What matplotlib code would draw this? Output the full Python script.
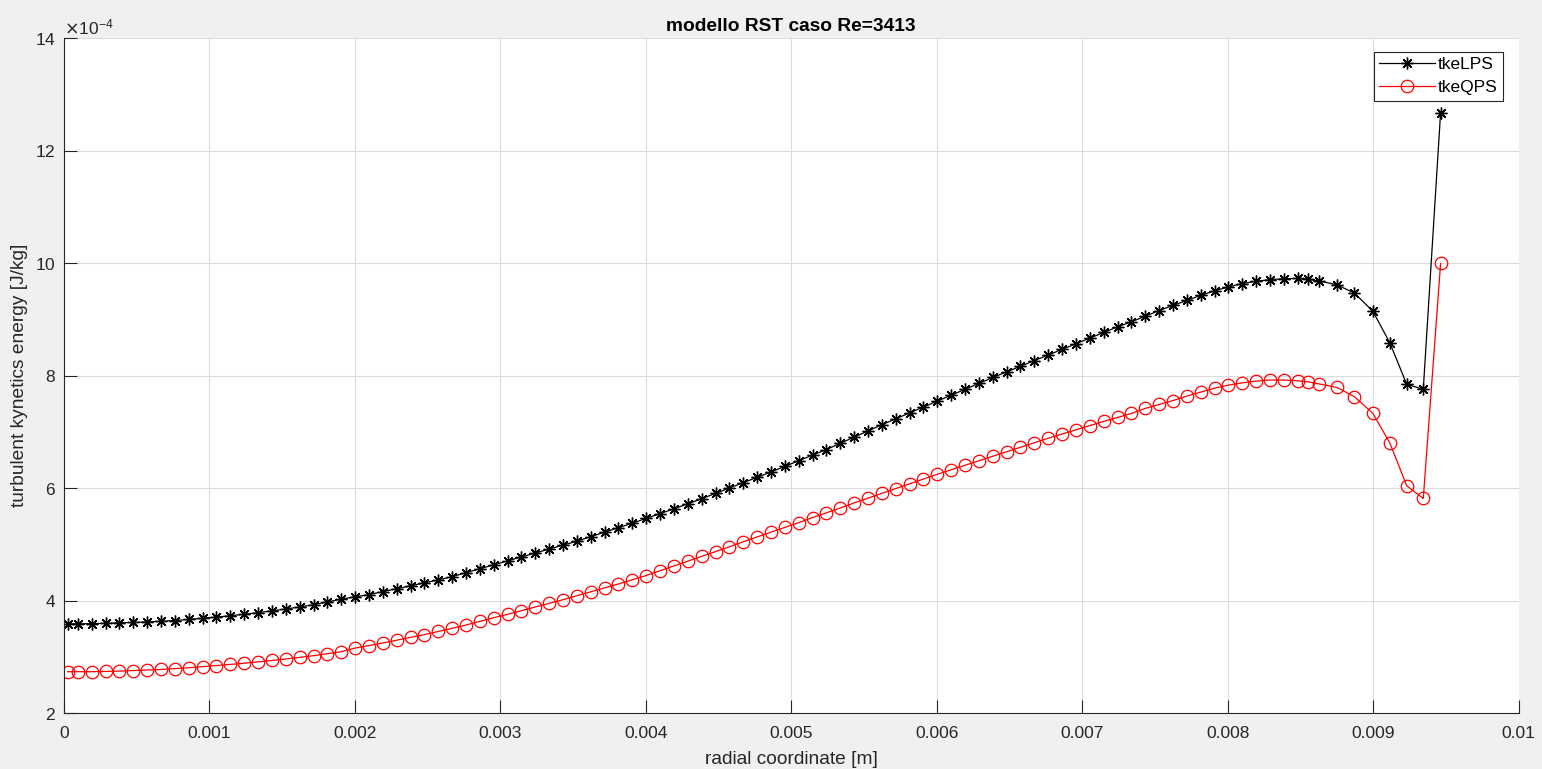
import matplotlib
matplotlib.use('Agg')
import matplotlib.pyplot as plt
from matplotlib.ticker import ScalarFormatter, FuncFormatter, MultipleLocator

# radial positions of the sampled points [m]
r_points = [
    0.0000250, 0.0000953, 0.0001906, 0.0002859, 0.0003812, 0.0004765, 0.0005718, 0.0006671,
    0.0007624, 0.0008577, 0.0009530, 0.0010483, 0.0011436, 0.0012389, 0.0013342, 0.0014295,
    0.0015248, 0.0016201, 0.0017154, 0.0018107, 0.0019060, 0.0020013, 0.0020966, 0.0021919,
    0.0022872, 0.0023825, 0.0024778, 0.0025731, 0.0026684, 0.0027637, 0.0028590, 0.0029543,
    0.0030496, 0.0031449, 0.0032402, 0.0033355, 0.0034308, 0.0035261, 0.0036214, 0.0037167,
    0.0038120, 0.0039073, 0.0040026, 0.0040979, 0.0041932, 0.0042885, 0.0043838, 0.0044791,
    0.0045744, 0.0046697, 0.0047650, 0.0048603, 0.0049556, 0.0050509, 0.0051462, 0.0052415,
    0.0053368, 0.0054321, 0.0055274, 0.0056227, 0.0057180, 0.0058133, 0.0059086, 0.0060039,
    0.0060992, 0.0061945, 0.0062898, 0.0063851, 0.0064804, 0.0065757, 0.0066710, 0.0067663,
    0.0068616, 0.0069569, 0.0070522, 0.0071475, 0.0072428, 0.0073381, 0.0074334, 0.0075287,
    0.0076240, 0.0077193, 0.0078146, 0.0079099, 0.0080052, 0.0081005, 0.0081958, 0.0082911,
    0.0083864, 0.0084817, 0.0085510, 0.0086300, 0.0087500, 0.0088710, 0.0089980, 0.0091160,
    0.0092310, 0.0093450, 0.0094640,
]

# turbulent kinetic energy, units of 1e-4 J/kg
tke_lps = [
    3.59, 3.59, 3.595, 3.60, 3.61, 3.615, 3.625, 3.635, 3.65, 3.67, 3.69, 3.71, 3.735, 3.76, 3.79, 3.82,
    3.855, 3.89, 3.93, 3.98, 4.03, 4.07, 4.11, 4.165, 4.215, 4.265, 4.32, 4.37, 4.43, 4.50, 4.57, 4.64,
    4.71, 4.78, 4.85, 4.92, 4.99, 5.06, 5.14, 5.22, 5.30, 5.38, 5.465, 5.55, 5.635, 5.725, 5.815, 5.91,
    6.005, 6.10, 6.195, 6.29, 6.39, 6.49, 6.59, 6.69, 6.80, 6.91, 7.02, 7.13, 7.235, 7.34, 7.445, 7.55,
    7.655, 7.76, 7.865, 7.97, 8.07, 8.17, 8.27, 8.37, 8.47, 8.57, 8.67, 8.77, 8.87, 8.96, 9.06, 9.16,
    9.25, 9.34, 9.43, 9.51, 9.58, 9.64, 9.68, 9.71, 9.725, 9.73, 9.715, 9.685, 9.62, 9.47, 9.15, 8.58,
    7.85, 7.76, 12.68,
]
tke_qps = [
    2.74, 2.74, 2.74, 2.745, 2.75, 2.76, 2.77, 2.78, 2.795, 2.81, 2.83, 2.85, 2.87, 2.89, 2.915, 2.94,
    2.965, 2.995, 3.025, 3.06, 3.095, 3.16, 3.205, 3.25, 3.30, 3.35, 3.40, 3.455, 3.51, 3.57, 3.635, 3.70,
    3.76, 3.825, 3.89, 3.955, 4.02, 4.09, 4.16, 4.23, 4.30, 4.375, 4.45, 4.535, 4.62, 4.705, 4.79, 4.875,
    4.96, 5.05, 5.135, 5.22, 5.305, 5.39, 5.48, 5.565, 5.65, 5.74, 5.825, 5.91, 5.995, 6.08, 6.165, 6.25,
    6.33, 6.41, 6.49, 6.57, 6.65, 6.73, 6.81, 6.89, 6.965, 7.04, 7.115, 7.19, 7.26, 7.33, 7.42, 7.49,
    7.56, 7.64, 7.71, 7.78, 7.835, 7.875, 7.905, 7.925, 7.925, 7.91, 7.895, 7.855, 7.795, 7.63, 7.335, 6.80,
    6.045, 5.82, 10.0,
]

x_ticks = [0, 0.001, 0.002, 0.003, 0.004, 0.005, 0.006, 0.007, 0.008, 0.009, 0.01]

plt.rcParams.update({
    "font.family": ["Liberation Sans", "DejaVu Sans"],
    "font.size": 12.5,
})

axis_grey = "#262626"

fig = plt.figure(figsize=(15.42, 7.69), dpi=100, facecolor="#F0F0F0")
ax = fig.add_axes([0.0415, 0.0724, 0.9433, 0.8778])
ax.set_facecolor("white")

lps = [v * 1e-4 for v in tke_lps]
qps = [v * 1e-4 for v in tke_qps]

ax.plot(r_points, lps, color="black", lw=0.9, marker=(8, 2, 0), markersize=8.5,
        markeredgewidth=1.0, label="tkeLPS")
ax.plot(r_points, qps, color="#FF0000", lw=0.9, marker="o", markersize=9,
        markerfacecolor="none", markeredgewidth=0.9, label="tkeQPS")

ax.set_xlim(0, 0.01)
ax.set_ylim(2e-4, 14e-4)
ax.set_xticks(x_ticks)
ax.xaxis.set_major_formatter(FuncFormatter(lambda v, p: "%g" % round(v, 6)))
ax.yaxis.set_major_locator(MultipleLocator(2e-4))
fmt = ScalarFormatter(useMathText=True)
fmt.set_powerlimits((-4, -4))
ax.yaxis.set_major_formatter(fmt)
ax.yaxis.get_offset_text().set_fontsize(12.5)
ax.yaxis.get_offset_text().set_color(axis_grey)

ax.grid(True, color="#DCDCDC", lw=0.8)
ax.set_axisbelow(True)
for side in ("top", "right"):
    ax.spines[side].set_visible(False)
for side in ("left", "bottom"):
    ax.spines[side].set_color(axis_grey)
    ax.spines[side].set_linewidth(0.8)
ax.tick_params(direction="in", length=9.5, width=0.8, color=axis_grey,
               labelcolor=axis_grey, labelsize=12.5, pad=6)
ax.tick_params(axis="x", pad=9)

ax.set_title("modello RST caso Re=3413", fontweight="bold", fontsize=13.75, pad=5)
ax.set_xlabel("radial coordinate [m]", fontsize=13.75, color=axis_grey, labelpad=7)
ax.set_ylabel("turbulent kynetics energy [J/kg]", fontsize=13.75, color=axis_grey, labelpad=5)

leg = ax.legend(loc="upper right", bbox_to_anchor=(0.9894, 0.9797), fontsize=12.5,
                fancybox=False, edgecolor=axis_grey, framealpha=1.0,
                handlelength=3.2, handletextpad=0.2, borderpad=0.3, labelspacing=0.45,
                borderaxespad=0.0)
leg.get_frame().set_linewidth(0.8)

fig.savefig("out.png", dpi=100, facecolor=fig.get_facecolor())
